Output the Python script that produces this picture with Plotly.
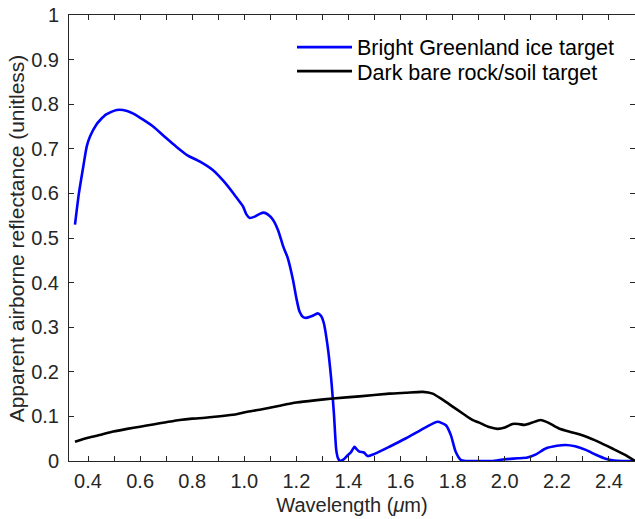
import plotly.graph_objects as go

# Apparent airborne reflectance spectra (wavelength in micrometres)
wl_ice = [0.35, 0.365, 0.382, 0.395, 0.408, 0.433, 0.446, 0.47, 0.51, 0.55,
          0.574, 0.61, 0.65, 0.70, 0.74, 0.78, 0.83, 0.88, 0.92, 0.957,
          0.98, 0.995, 1.008, 1.021, 1.04, 1.059, 1.075, 1.09, 1.11, 1.13,
          1.15, 1.167, 1.187, 1.20, 1.212, 1.225, 1.238, 1.26, 1.282, 1.295,
          1.305, 1.32, 1.334, 1.344, 1.353, 1.36, 1.366, 1.38, 1.397, 1.41,
          1.423, 1.432, 1.442, 1.459, 1.474, 1.5, 1.557, 1.621, 1.698, 1.742,
          1.774, 1.793, 1.812, 1.832, 1.85, 1.9, 1.95, 2.0, 2.05, 2.087,
          2.12, 2.157, 2.2, 2.234, 2.27, 2.311, 2.35, 2.387, 2.42, 2.45, 2.5]
refl_ice = [0.53, 0.60, 0.661, 0.705, 0.728, 0.755, 0.764, 0.777, 0.787, 0.785,
            0.779, 0.766, 0.750, 0.724, 0.704, 0.686, 0.671, 0.652, 0.628, 0.601,
            0.583, 0.571, 0.553, 0.545, 0.548, 0.554, 0.557, 0.553, 0.541, 0.517,
            0.48, 0.455, 0.406, 0.365, 0.335, 0.323, 0.321, 0.325, 0.331, 0.325,
            0.31, 0.257, 0.182, 0.107, 0.025, 0.006, 0.001, 0.003, 0.013, 0.020,
            0.032, 0.026, 0.021, 0.019, 0.011, 0.016, 0.032, 0.051, 0.076, 0.088,
            0.08, 0.058, 0.02, 0.002, 0.0, 0.0, 0.0, 0.004, 0.006, 0.008,
            0.015, 0.028, 0.034, 0.036, 0.033, 0.025, 0.014, 0.005, 0.001, 0.0, 0.0]

wl_rock = [0.35, 0.4, 0.45, 0.497, 0.55, 0.6, 0.65, 0.70, 0.752, 0.8,
           0.85, 0.931, 0.97, 1.008, 1.059, 1.136, 1.2, 1.27, 1.34, 1.442,
           1.557, 1.62, 1.685, 1.723, 1.76, 1.80, 1.84, 1.876, 1.902, 1.94,
           1.972, 2.0, 2.03, 2.052, 2.074, 2.1, 2.138, 2.17, 2.208, 2.26,
           2.311, 2.36, 2.413, 2.464, 2.5]
refl_rock = [0.043, 0.052, 0.059, 0.066, 0.072, 0.077, 0.082, 0.087, 0.092, 0.095,
             0.097, 0.102, 0.105, 0.110, 0.115, 0.124, 0.131, 0.136, 0.140, 0.145,
             0.151, 0.153, 0.155, 0.151, 0.138, 0.122, 0.106, 0.092, 0.086, 0.076,
             0.072, 0.075, 0.083, 0.083, 0.081, 0.085, 0.092, 0.085, 0.073, 0.064,
             0.055, 0.043, 0.028, 0.013, 0.0]

x_ticks = [0.4, 0.6, 0.8, 1.0, 1.2, 1.4, 1.6, 1.8, 2.0, 2.2, 2.4]
y_ticks = [0, 0.1, 0.2, 0.3, 0.4, 0.5, 0.6, 0.7, 0.8, 0.9, 1]

FONT = "Liberation Sans, Arial, Helvetica, sans-serif"
INK = "#262626"

fig = go.Figure()
fig.add_trace(go.Scatter(x=wl_ice, y=refl_ice, mode="lines",
                         name="Bright Greenland ice target", legend="legend",
                         line=dict(color="#0000ff", width=2.6, shape="spline", smoothing=0.6)))
fig.add_trace(go.Scatter(x=wl_rock, y=refl_rock, mode="lines",
                         name="Dark bare rock/soil target", legend="legend2",
                         line=dict(color="#000000", width=2.6, shape="spline", smoothing=0.6)))

legend_style = dict(xanchor="left", yanchor="middle",
                    bgcolor="rgba(0,0,0,0)", borderwidth=0,
                    font=dict(size=21.5, color="#000000"),
                    itemwidth=55)

fig.update_layout(
    width=635, height=519,
    margin=dict(l=69, r=0, t=15, b=58),
    paper_bgcolor="white", plot_bgcolor="white",
    font=dict(family=FONT, size=20, color=INK),
    showlegend=True,
    legend=dict(x=0.394, y=0.928, **legend_style),
    legend2=dict(x=0.394, y=0.874, **legend_style),
    annotations=[dict(text="Apparent airborne reflectance (unitless)",
                      xref="paper", yref="paper", x=-0.093, y=0.5,
                      xanchor="center", yanchor="middle", textangle=-90,
                      showarrow=False, font=dict(size=21, color=INK))],
)
fig.update_xaxes(
    range=[0.327, 2.5], tickvals=x_ticks, tickformat=".1f",
    ticks="inside", ticklen=5, tickcolor=INK, tickwidth=1,
    minor=dict(dtick=0.1, tick0=0.3, ticks="inside", ticklen=5, tickcolor=INK),
    showline=True, linecolor=INK, linewidth=1, mirror="ticks",
    showgrid=False, zeroline=False, ticklabelstandoff=2,
    title=dict(text="Wavelength (<i>μ</i>m)", standoff=6, font=dict(size=20)),
    tickfont=dict(size=20),
)
fig.update_yaxes(
    range=[0, 1], tickvals=y_ticks,
    ticks="inside", ticklen=5, tickcolor=INK, tickwidth=1,
    showline=True, linecolor=INK, linewidth=1, mirror="ticks",
    showgrid=False, zeroline=False, ticklabelstandoff=5,
    tickfont=dict(size=20),
)

fig.write_html("out.html")
